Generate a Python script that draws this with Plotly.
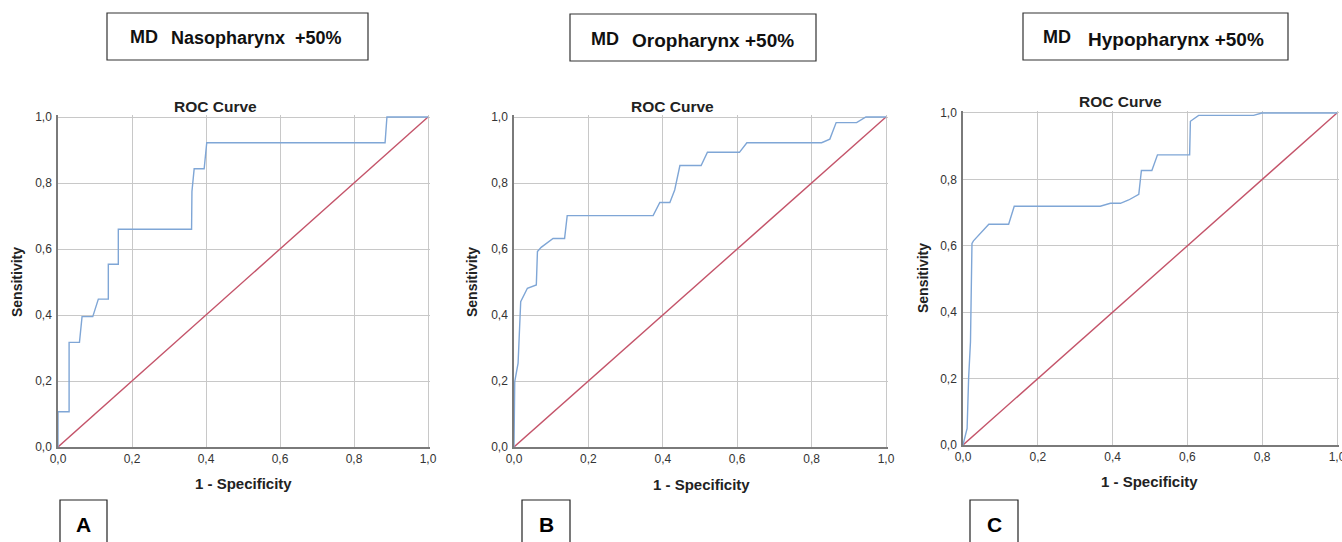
import plotly.graph_objects as go

W, H = 1342, 542

# ---- data ----
fpr_a = [0, 0, 0.030, 0.030, 0.058, 0.065, 0.094, 0.109, 0.136, 0.136, 0.163, 0.163,
         0.361, 0.362, 0.368, 0.395, 0.402, 0.884, 0.889, 1.0]
tpr_a = [0, 0.107, 0.107, 0.317, 0.317, 0.395, 0.395, 0.448, 0.448, 0.554, 0.554, 0.660,
         0.660, 0.774, 0.843, 0.843, 0.922, 0.922, 1.0, 1.0]

fpr_b = [0, 0.002, 0.011, 0.015, 0.018, 0.036, 0.060, 0.063, 0.073, 0.105, 0.136, 0.143,
         0.374, 0.392, 0.419, 0.432, 0.446, 0.503, 0.520, 0.606, 0.626, 0.827, 0.849,
         0.866, 0.921, 0.946, 1.0]
tpr_b = [0, 0.198, 0.254, 0.375, 0.440, 0.481, 0.491, 0.592, 0.605, 0.632, 0.632, 0.701,
         0.701, 0.741, 0.741, 0.779, 0.853, 0.853, 0.893, 0.893, 0.922, 0.922, 0.933,
         0.983, 0.983, 1.0, 1.0]

fpr_c = [0, 0.011, 0.015, 0.020, 0.024, 0.028, 0.069, 0.122, 0.137, 0.367, 0.394, 0.421,
         0.443, 0.470, 0.477, 0.505, 0.520, 0.606, 0.608, 0.630, 0.777, 0.799, 1.0]
tpr_c = [0, 0.050, 0.201, 0.311, 0.607, 0.615, 0.665, 0.665, 0.719, 0.719, 0.728, 0.728,
         0.738, 0.755, 0.827, 0.827, 0.874, 0.874, 0.975, 0.993, 0.993, 1.0, 1.0]

ref_line = [0, 1]
tick_vals = [0, 0.2, 0.4, 0.6, 0.8, 1.0]
tick_text = ["0,0", "0,2", "0,4", "0,6", "0,8", "1,0"]

panel_regions = ["Nasopharynx  +50%", "Oropharynx +50%", "Hypopharynx +50%"]
panel_letters = ["A", "B", "C"]

# ---- layout geometry (pixels) ----
plot_px = [  # x0, x1, ytop, ybottom  (pixel positions of value 0 and 1)
    (58, 428, 117, 447),
    (514, 886, 117, 447),
    (963, 1337, 113, 445),
]
PAD = 0.006  # small headroom so lines at 1.0 are not clipped
header_boxes = [(107, 368, 13, 60), (570, 816, 14, 61), (1023, 1288, 13, 60)]
md_pos = [(128, 37), (589, 39), (1041, 37)]
region_pos = [(169, 38), (630, 40), (1086, 39)]
region_font = [18, 19, 19]
letter_boxes = [(60, 107, 500), (522, 570, 500), (970, 1018, 500)]
roc_title_pos = [(215, 106), (672, 106), (1120, 101)]
xlabel_pos = [(243, 483), (701, 484), (1149, 482)]
ylabel_pos = [(17, 282), (472, 282), (923, 278)]

BLUE = "#7fa6d6"
RED = "#c4546a"
GRID = "#c8c8c8"
FONT = "Liberation Sans, Arial, sans-serif"

def px(x):
    return x / W

def py(y):
    return 1 - y / H

fig = go.Figure()
curves = [(fpr_a, tpr_a), (fpr_b, tpr_b), (fpr_c, tpr_c)]
for i, (fx, ty) in enumerate(curves):
    ax = "" if i == 0 else str(i + 1)
    fig.add_trace(go.Scatter(x=ref_line, y=ref_line, mode="lines",
                             line=dict(color=RED, width=1.4),
                             xaxis="x" + ax, yaxis="y" + ax, showlegend=False,
                             hoverinfo="skip"))
    fig.add_trace(go.Scatter(x=fx, y=ty, mode="lines",
                             line=dict(color=BLUE, width=1.4),
                             xaxis="x" + ax, yaxis="y" + ax, showlegend=False))

layout = dict(
    width=W, height=H,
    margin=dict(l=0, r=0, t=0, b=0, autoexpand=False),
    paper_bgcolor="white", plot_bgcolor="white",
    font=dict(family=FONT, color="#222"),
    showlegend=False,
)
axis_common = dict(tickvals=tick_vals, ticktext=tick_text,
                   showgrid=True, gridcolor=GRID, gridwidth=1, automargin=False,
                   zeroline=False, showline=True, linecolor="#7a7a7a", linewidth=1.5,
                   ticks="", tickfont=dict(size=12, color="#333", family=FONT),
                   ticklabeloverflow="allow", fixedrange=True)
for i, (x0, x1, yt, yb) in enumerate(plot_px):
    ax = "" if i == 0 else str(i + 1)
    xext = x1 + PAD * (x1 - x0)
    yext = yt - PAD * (yb - yt)
    xa = dict(axis_common, range=[0, 1 + PAD], domain=[px(x0), min(px(xext), 1.0)],
              anchor="y" + ax, ticklabelstandoff=0)
    ya = dict(axis_common, range=[0, 1 + PAD], domain=[py(yb), py(yext)],
              anchor="x" + ax, ticklabelstandoff=2)
    layout["xaxis" + ax] = xa
    layout["yaxis" + ax] = ya

shapes = []
annotations = []
for i in range(3):
    bx0, bx1, by0, by1 = header_boxes[i]
    shapes.append(dict(type="rect", xref="paper", yref="paper",
                       x0=px(bx0), x1=px(bx1), y0=py(by1), y1=py(by0),
                       line=dict(color="#333", width=1.2), fillcolor="white", layer="below"))
    lx0, lx1, ly0 = letter_boxes[i]
    shapes.append(dict(type="rect", xref="paper", yref="paper",
                       x0=px(lx0), x1=px(lx1), y0=py(ly0), y1=-0.05,
                       line=dict(color="#222", width=1.2), fillcolor="white", layer="below"))

    mx, my = md_pos[i]
    annotations.append(dict(text="<b>MD</b>", x=px(mx), y=py(my), xref="paper", yref="paper",
                            xanchor="left", yanchor="middle", showarrow=False,
                            font=dict(size=18, family=FONT, color="#111")))
    rx, ry = region_pos[i]
    annotations.append(dict(text="<b>" + panel_regions[i] + "</b>", x=px(rx), y=py(ry),
                            xref="paper", yref="paper", xanchor="left", yanchor="middle",
                            showarrow=False,
                            font=dict(size=region_font[i], family=FONT, color="#111")))
    annotations.append(dict(text="<b>" + panel_letters[i] + "</b>",
                            x=px((lx0 + lx1) / 2), y=py(524), xref="paper", yref="paper",
                            xanchor="center", yanchor="middle", showarrow=False,
                            font=dict(size=21, family=FONT, color="#000")))
    tx, ty = roc_title_pos[i]
    annotations.append(dict(text="<b>ROC Curve</b>", x=px(tx), y=py(ty), xref="paper",
                            yref="paper", xanchor="center", yanchor="middle", showarrow=False,
                            font=dict(size=15.5, family=FONT, color="#222")))
    xx, xy = xlabel_pos[i]
    annotations.append(dict(text="<b>1 - Specificity</b>", x=px(xx), y=py(xy), xref="paper",
                            yref="paper", xanchor="center", yanchor="middle", showarrow=False,
                            font=dict(size=15, family=FONT, color="#222")))
    sx, sy = ylabel_pos[i]
    annotations.append(dict(text="<b>Sensitivity</b>", x=px(sx), y=py(sy), xref="paper",
                            yref="paper", xanchor="center", yanchor="middle", showarrow=False,
                            textangle=-90, font=dict(size=14, family=FONT, color="#222")))

layout["shapes"] = shapes
layout["annotations"] = annotations
fig.update_layout(**layout)
fig.write_html("out.html")
